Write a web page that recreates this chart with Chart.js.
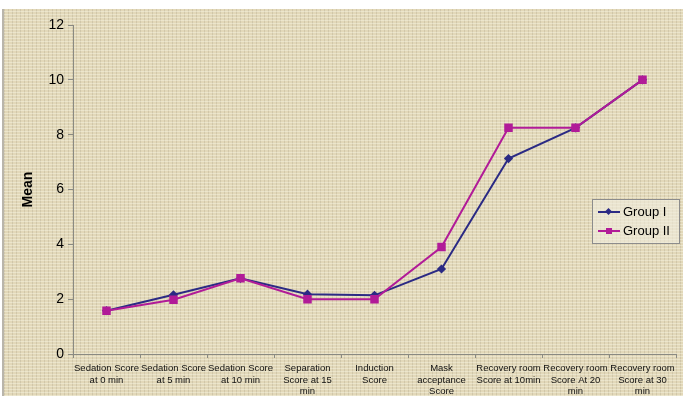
<!DOCTYPE html>
<html>
<head>
<meta charset="utf-8">
<script src="https://cdn.jsdelivr.net/npm/chart.js@4.4.1/dist/chart.umd.min.js"></script>
<style>
  html, body { margin: 0; padding: 0; width: 683px; height: 396px; overflow: hidden; background: #ffffff; }
  #wrap {
    position: absolute; left: 2px; top: 9px; width: 681px; height: 387px;
    background-color: #e2d8b9;
    background-image:
      repeating-linear-gradient(0deg, rgba(255,255,240,0.35) 0px, rgba(255,255,240,0.35) 1px, transparent 1px, transparent 3px),
      repeating-linear-gradient(90deg, rgba(140,130,105,0.2) 0px, rgba(140,130,105,0.2) 1px, transparent 1px, transparent 4px);
    border-left: 2px solid #b9b5ab;
  }
  canvas { position: absolute; left: 0; top: 0; }
  #legend {
    position: absolute; left: 592px; top: 199px; width: 86px; height: 43px;
    border: 1px solid #8c8c8c; background: rgba(240,236,222,0.6);
    font: 13px Arial, "Liberation Sans", sans-serif; color: #000;
  }
  #legend div { position: absolute; left: 0; height: 16px; line-height: 16px; }
</style>
</head>
<body>
<div id="wrap"></div>
<canvas id="myChart" width="683" height="396"></canvas>
<div id="legend"></div>
<script>
// Kategorien und Mittelwerte
const categories = [
  ["Sedation Score", "at 0 min"],
  ["Sedation Score", "at 5 min"],
  ["Sedation Score", "at 10 min"],
  ["Separation", "Score at 15", "min"],
  ["Induction", "Score"],
  ["Mask", "acceptance", "Score"],
  ["Recovery room", "Score at 10min"],
  ["Recovery room", "Score At 20", "min"],
  ["Recovery room", "Score at 30", "min"],
];
const groupOne = [1.58, 2.16, 2.76, 2.18, 2.14, 3.1, 7.13, 8.25, 10.0];
const groupTwo = [1.58, 1.98, 2.76, 2.0, 2.0, 3.9, 8.25, 8.25, 10.0];
const yTicks = [0, 2, 4, 6, 8, 10, 12];

const blue = "#2b2a84";
const pink = "#b11b98";

const ctx = document.getElementById("myChart");
const chart = new Chart(ctx, {
  type: "line",
  data: {
    labels: categories,
    datasets: [
      {
        label: "Group I",
        data: groupOne,
        borderColor: blue,
        backgroundColor: blue,
        borderWidth: 2,
        pointStyle: "rectRot",
        pointRadius: 3.2,
        tension: 0,
        order: 1,
      },
      {
        label: "Group II",
        data: groupTwo,
        borderColor: pink,
        backgroundColor: pink,
        borderWidth: 2,
        pointStyle: "rect",
        pointRadius: 4.6,
        tension: 0,
        order: 0,
      },
    ],
  },
  options: {
    responsive: false,
    animation: false,
    layout: { padding: { top: 25, right: 7, left: 0, bottom: 0 } },
    plugins: { legend: { display: false }, tooltip: { enabled: false } },
    scales: {
      x: {
        offset: true,
        afterFit: (scale) => { scale.height = 42; },
        border: { color: "#8a8a82", width: 1 },
        grid: { offset: true, drawOnChartArea: false, drawTicks: true, tickLength: 4, color: "#8a8a82" },
        ticks: {
          autoSkip: false, maxRotation: 0, minRotation: 0, padding: 5,
          color: "#111", font: { family: "Arial", size: 9.5, lineHeight: 1.2 },
        },
      },
      y: {
        min: 0,
        max: 12,
        afterFit: (scale) => { scale.width = 73; },
        afterBuildTicks: (scale) => { scale.ticks = yTicks.map((v) => ({ value: v })); },
        border: { color: "#8a8a82", width: 1 },
        grid: { drawOnChartArea: false, drawTicks: true, tickLength: 5, color: "#8a8a82" },
        ticks: { color: "#000", padding: 4, font: { family: "Arial", size: 14 } },
        title: {
          display: true, text: "Mean", color: "#000",
          font: { family: "Arial", size: 14, weight: "bold" },
          padding: { top: 20, bottom: 0 },
        },
      },
    },
  },
});

// Legende als HTML
const legend = document.getElementById("legend");
chart.data.datasets.forEach((ds, i) => {
  const row = document.createElement("div");
  row.style.top = (4 + i * 19) + "px";
  const marker = ds.pointStyle === "rect"
    ? '<span style="position:absolute;left:13px;top:5px;width:6px;height:6px;background:' + ds.borderColor + '"></span>'
    : '<span style="position:absolute;left:13px;top:5px;width:5px;height:5px;transform:rotate(45deg);background:' + ds.borderColor + '"></span>';
  row.innerHTML =
    '<span style="position:absolute;left:5px;top:7px;width:22px;height:2px;background:' + ds.borderColor + '"></span>' +
    marker +
    '<span style="position:absolute;left:30px;top:0;white-space:nowrap">' + ds.label + '</span>';
  legend.appendChild(row);
});
</script>
</body>
</html>
